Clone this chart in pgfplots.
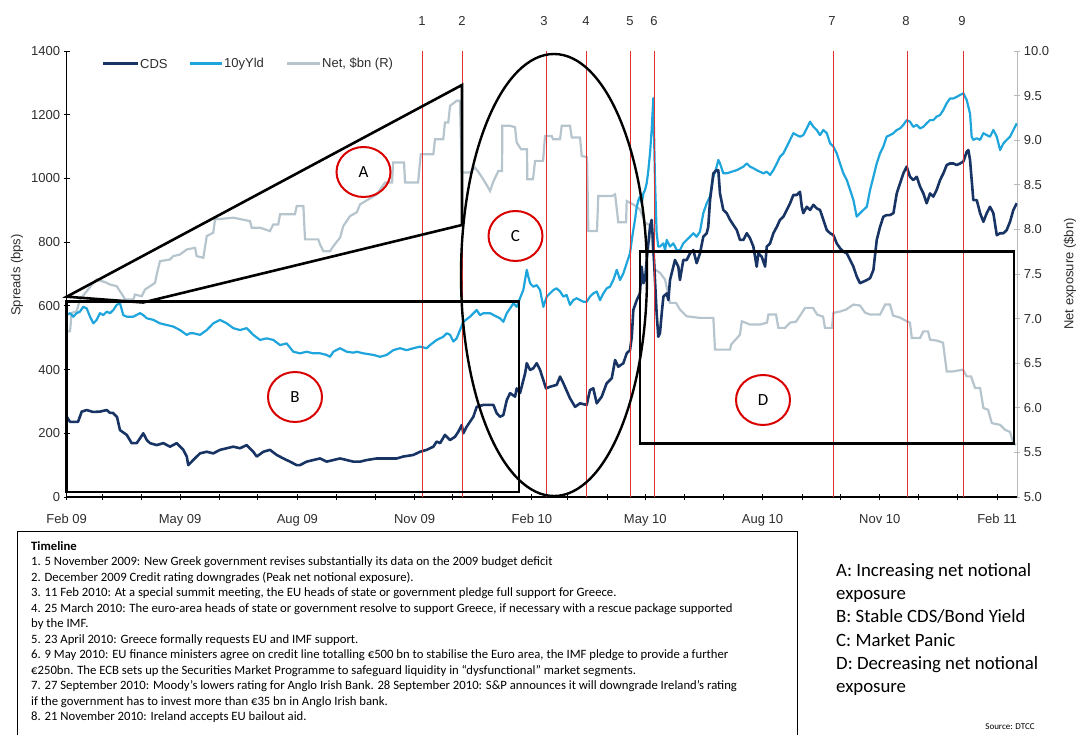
\documentclass[border=0pt]{standalone}
\usepackage{fontspec}
\setmainfont{Liberation Sans}
\newfontfamily\calibri{Carlito}
\usepackage{pgfplots}
\pgfplotsset{compat=1.18}
\definecolor{cdsc}{RGB}{24,52,100}
\definecolor{yldc}{RGB}{30,165,220}
\definecolor{netc}{RGB}{182,197,205}
\definecolor{evred}{RGB}{224,50,50}
\definecolor{ticktext}{RGB}{45,45,45}
\begin{document}
\begin{tikzpicture}[x=1pt,y=1pt]
\path[use as bounding box] (0,0) rectangle (1078,734);

% ---------- right axis: net exposure ----------
\begin{axis}[
  at={(66.7pt,237pt)}, anchor=south west, scale only axis,
  width=950.6pt, height=446pt,
  xmin=0, xmax=745.9, ymin=5, ymax=10,
  axis x line=none, axis y line*=right,
  ytick={5,5.5,6,6.5,7,7.5,8,8.5,9,9.5,10},
  yticklabel style={/pgf/number format/.cd, fixed, fixed zerofill, precision=1, assume math mode=true},
  tick label style={font=\fontsize{13}{13}\selectfont, text=ticktext},
  y axis line style={draw=gray!55, line width=0.8pt},
  tick align=center, major tick length=6pt,
  ytick style={draw=gray!55, line width=0.8pt},
]
\addplot[netc, line width=2.2pt] coordinates {
(0,6.857)(2.6,6.857)(3.9,7.064)(7.8,7.082)(10.4,7.213)(15.7,7.307)(20.9,7.401)(23.5,7.438)(30.8,7.405)(34,7.382)(39.2,7.363)(41.8,7.307)(44.4,7.251)(45.7,7.213)(52.3,7.213)(53.6,7.270)(58.9,7.251)(61.4,7.326)(65.4,7.363)(69.3,7.401)(70.6,7.494)(73.2,7.644)(81.1,7.663)(83.6,7.700)(88.9,7.719)(94.2,7.775)(100.7,7.794)(102,7.700)(107.2,7.682)(109.9,7.925)(115,7.963)(116.4,8.112)(130.7,8.131)(137.3,8.112)(143.8,8.093)(145.2,8.019)(151.7,8.019)(159.5,7.981)(162.1,8.056)(166,8.056)(167.4,8.169)(179.1,8.169)(180.5,8.262)(185.7,8.262)(187,7.888)(197.4,7.888)(198.8,7.831)(201.4,7.756)(206.6,7.756)(209.2,7.812)(214.5,7.907)(217,8.037)(222.3,8.149)(227.6,8.191)(230.2,8.281)(243.3,8.393)(249.8,8.525)(255.3,8.525)(256.1,8.749)(264.7,8.749)(265.5,8.525)(275.7,8.525)(277.8,8.843)(287.7,8.843)(289,9.011)(295.5,9.011)(296.8,9.199)(299.4,9.199)(300.8,9.385)(306,9.442)(308.6,9.442)(309.9,8.637)(316.5,8.637)(320.4,8.693)(324.3,8.618)(328.3,8.528)(332.2,8.430)(334.5,8.528)(338.7,8.655)(341.6,8.655)(341.8,9.161)(347.9,9.161)(351.8,9.146)(353.1,8.974)(356.5,8.899)(361.2,8.899)(361.4,8.562)(365.9,8.562)(367.5,8.768)(373.8,8.768)(375.3,9.048)(380.6,9.048)(381.6,9.011)(387.1,9.011)(388.4,9.161)(394.9,9.161)(396.3,9.030)(402.8,9.030)(404.1,8.824)(408.3,8.809)(409.3,7.981)(416.1,7.981)(417.1,8.374)(427.9,8.374)(430.3,8.393)(432.8,8.079)(438.9,8.079)(439.4,8.318)(444.4,8.281)(449.8,8.224)(453.8,8.075)(457.7,8.045)(461.6,7.551)(465.5,7.513)(469.5,7.438)(473.4,7.176)(478.1,7.176)(481.2,7.101)(486.5,7.026)(496.9,7.008)(507.4,7.008)(508.7,6.652)(520.5,6.652)(521.3,6.708)(528.3,6.820)(529.7,6.970)(536.2,6.933)(544,6.933)(549.5,6.955)(550.6,7.045)(556.6,7.045)(558.4,6.896)(563.7,6.896)(567.6,6.955)(572.3,6.966)(579.4,7.120)(585.6,7.120)(588.8,7.045)(593.5,7.022)(595,6.896)(600.5,6.896)(601.6,7.064)(606.8,7.079)(611.5,7.101)(617.3,7.157)(622.5,7.146)(626.4,7.067)(630.4,7.045)(638.2,7.045)(642.2,7.157)(646,7.157)(648.4,7.034)(653.9,7.011)(659.1,6.970)(661.7,6.955)(663.1,6.783)(669.6,6.783)(672.2,6.857)(675.9,6.857)(677.4,6.764)(682.9,6.753)(687.6,6.730)(690.5,6.408)(695.5,6.408)(703.3,6.427)(706.2,6.352)(709.6,6.352)(712.8,6.221)(716.7,6.221)(719.3,5.997)(723,5.978)(725.9,5.828)(732.4,5.809)(736.3,5.753)(740.2,5.730)(742.8,5.603)(744.9,5.584)
};
\end{axis}

% ---------- left axis: CDS and 10y yield ----------
\begin{axis}[
  at={(66.7pt,237pt)}, anchor=south west, scale only axis,
  width=950.6pt, height=446pt,
  xmin=0, xmax=745.9, ymin=0, ymax=1400,
  axis x line*=bottom, axis y line*=left,
  xtick={0,89,181,273,365,454,546,638,730},
  xticklabels={Feb 09,May 09,Aug 09,Nov 09,Feb 10,May 10,Aug 10,Nov 10,Feb 11},
  minor xtick={28,59,120,150,212,242,303,334,393,424,485,515,577,607,668,699},
  ytick={0,200,400,600,800,1000,1200,1400},
  yticklabel style={/pgf/number format/.cd, 1000 sep={}, assume math mode=true},
  tick label style={font=\fontsize{13}{13}\selectfont, text=ticktext},
  xticklabel style={yshift=-11pt},
  axis line style={black, line width=1.4pt},
  tick align=center, major tick length=6pt, minor tick length=5pt,
  tick style={black, line width=0.9pt},
]
\addplot[yldc, line width=2.2pt, line join=round] coordinates {
(0,571)(2.6,577)(5.2,566)(7.8,577)(10.4,582)(13,597)(15.7,592)(18.3,566)(20.9,545)(23.5,556)(26.1,577)(28.7,571)(31.4,582)(34,577)(36.6,587)(39.2,603)(41.8,608)(44.4,571)(47.1,566)(52.3,566)(57.5,577)(60.1,571)(62.8,561)(68,556)(73.2,545)(78.5,540)(83.6,535)(88.9,524)(94.2,509)(96.8,514)(99.3,514)(104.6,509)(109.9,524)(115,545)(120.3,556)(125.6,545)(130.7,530)(136,524)(141.2,530)(146.4,509)(151.7,493)(156.9,498)(162.1,493)(167.4,477)(172.6,482)(177.8,456)(183,451)(188.3,456)(193.5,451)(198.8,451)(204,446)(206.6,440)(209.2,456)(214.5,467)(219.7,456)(224.9,453)(227.6,456)(232.7,451)(240.6,446)(245.9,440)(251.1,446)(256.3,461)(261.5,467)(266.8,461)(272,467)(277.2,472)(282.5,467)(285.1,477)(290.3,493)(295.5,503)(298.2,514)(300.8,509)(303.4,488)(306,498)(308.6,524)(311.2,550)(316.5,566)(321.7,587)(324.3,571)(327,577)(332.2,577)(337.4,566)(340,561)(342.6,550)(345.3,577)(347.9,592)(350.5,608)(353.1,597)(355.7,624)(358.3,650)(361,713)(362.2,692)(363.6,671)(366.1,660)(368.8,665)(371.4,650)(374,597)(376.7,629)(379.2,639)(381.9,650)(384.5,655)(387.1,645)(389.7,629)(392.3,634)(394.9,603)(397.5,618)(400.2,624)(402.8,618)(405.4,613)(408,613)(410.6,629)(413.2,639)(415.9,645)(418.5,618)(421.1,639)(423.7,655)(426.3,660)(428.9,681)(431.6,713)(434.2,681)(436.8,702)(439.4,734)(442,765)(443.4,807)(444.6,838)(445.9,870)(447.3,911)(448.6,932)(449.8,943)(451.2,922)(452.5,953)(453.8,964)(455.1,985)(456.4,1026)(457.7,1079)(459,1152)(460.3,1252)(461.6,995)(462.9,828)(464.2,786)(465.5,786)(468.2,796)(469.5,775)(470.8,807)(473.4,786)(476,796)(478.7,775)(481.2,775)(483.8,796)(486.5,807)(489.1,817)(491.7,828)(494.3,817)(496.9,833)(499.5,891)(502.2,922)(504.8,943)(507.4,1005)(510,1037)(511.3,1058)(512.6,1047)(515.2,1016)(517.9,1016)(521.8,1021)(525.8,1026)(531,1037)(533.6,1047)(536.2,1037)(538.8,1032)(541.4,1026)(544,1021)(546.6,1016)(549.3,1021)(551.9,1011)(554.5,1026)(557.2,1047)(559.7,1068)(562.4,1079)(565,1100)(567.6,1121)(570.2,1142)(572.8,1136)(575.4,1131)(578,1136)(580.7,1157)(583.3,1178)(585.9,1162)(588.5,1152)(591.1,1136)(593.7,1152)(596.4,1142)(599,1110)(601.6,1100)(604.2,1079)(606.8,1047)(609.4,1016)(612.1,995)(614.7,964)(617.3,932)(619.9,880)(622.5,891)(625.1,901)(627.8,911)(630.4,964)(633,1005)(635.6,1047)(638.2,1079)(640.8,1100)(643.4,1131)(646,1136)(648.7,1142)(651.3,1152)(653.9,1157)(656.5,1168)(659.1,1183)(661.7,1178)(664.3,1162)(667,1168)(669.6,1157)(672.2,1162)(674.8,1173)(677.4,1183)(680,1183)(682.6,1194)(685.3,1199)(687.9,1215)(690.5,1236)(693.1,1251)(695.7,1251)(698.3,1256)(701,1262)(703.6,1267)(706.2,1246)(708.8,1204)(710.1,1131)(711.4,1121)(714.1,1126)(716.7,1121)(719.3,1142)(721.9,1136)(724.5,1131)(727.1,1152)(729.8,1131)(732.4,1089)(735,1110)(737.6,1121)(740.2,1131)(742.8,1152)(745.5,1173)
};
\addplot[cdsc, line width=2.6pt, line join=round] coordinates {
(0,252)(2.6,236)(8.9,236)(11.8,268)(15.7,273)(20.6,267)(26.1,268)(31.4,273)(34,264)(36.3,264)(39.5,251)(41.8,210)(47.1,195)(51,169)(54.9,169)(57.5,184)(60.1,200)(62.8,179)(65.4,169)(70.6,163)(75.8,169)(81.1,158)(86.3,169)(91.5,148)(94.2,127)(95.4,100)(99.3,116)(104.6,137)(109.9,142)(115,137)(120.3,148)(125.6,153)(130.7,158)(136,153)(141.2,163)(146.4,142)(149.1,127)(154.3,142)(159.5,148)(164.8,132)(170,121)(175.2,111)(180.5,100)(183,100)(188.3,111)(193.5,116)(198.8,121)(204,111)(209.2,116)(214.5,121)(219.7,116)(224.9,111)(230.2,111)(235.4,116)(243.3,121)(251.1,121)(259,121)(264.1,127)(272,132)(277.2,142)(282.5,148)(287.7,158)(290.3,174)(293,169)(296.8,195)(300.8,179)(304.7,189)(307.3,205)(310,226)(311.2,200)(313.9,221)(319.1,252)(321.7,283)(326.9,289)(334.8,289)(337.4,263)(340,252)(342.6,257)(345.3,304)(347.9,326)(351.8,315)(353.1,341)(355.7,326)(359.7,388)(361,420)(363.6,399)(366.1,404)(368.8,420)(371.4,399)(374,367)(376.1,341)(379.2,346)(384.5,352)(387.1,378)(389.7,357)(394.9,310)(398.9,283)(402.8,294)(408,289)(410.6,336)(413.2,341)(415.9,294)(419.8,315)(423.7,357)(427.7,373)(430.3,430)(432.8,409)(436.8,420)(439.4,451)(442,461)(443.4,503)(444.6,587)(447.3,618)(449.8,639)(451.2,723)(452.5,671)(453.8,681)(455.1,744)(456.4,796)(457.7,848)(459,870)(460.3,786)(461.6,681)(462.9,577)(464.2,503)(465.5,514)(466.9,577)(468.2,629)(470.8,639)(472.1,618)(473.4,681)(476,723)(477.3,744)(479.9,723)(481.2,681)(483.8,744)(486.5,744)(489.1,765)(491.7,775)(494.3,734)(496.9,765)(499.5,817)(502.2,828)(503.4,848)(504.8,932)(507.4,1016)(510,1026)(511.3,1026)(512.6,953)(515.2,901)(517.9,891)(520.5,870)(523.1,854)(525.8,838)(528.3,807)(531,807)(533.6,828)(536.2,812)(538.8,786)(541.4,723)(542.7,765)(545.4,754)(548,723)(549.3,786)(551.9,796)(554.5,828)(557.2,848)(559.7,870)(562.4,880)(565,901)(567.6,922)(570.2,948)(572.8,948)(575.4,958)(576.8,911)(578,891)(580.7,911)(583.3,901)(585.9,917)(588.5,906)(591.1,901)(593.7,870)(596.4,838)(599,828)(601.6,822)(604.2,796)(606.8,781)(609.4,770)(612.1,765)(614.7,744)(617.3,723)(619.9,692)(622.5,671)(625.1,676)(627.8,681)(630.4,687)(633,713)(635.6,807)(638.2,848)(640.8,880)(643.4,885)(646,885)(648.7,891)(651.3,953)(653.9,985)(656.5,1016)(659.1,1037)(661.7,1005)(664.3,995)(667,1005)(669.6,974)(672.2,953)(674.8,922)(677.4,953)(680,943)(682.6,964)(685.3,995)(687.9,1016)(690.5,1042)(693.1,1047)(695.7,1047)(698.3,1042)(701,1047)(703.6,1053)(706.2,1084)(707.5,1089)(708.8,1058)(711.4,932)(714.1,932)(716.7,891)(719.3,864)(721.9,891)(724.5,911)(727.1,891)(729.8,822)(732.4,828)(735,828)(737.6,838)(740.2,864)(742.8,901)(745.5,922)
};
% event lines
\foreach \d in {278.8,310.4,376.1,408,442.2,460.8,601.5,659.4,703.9}{
  \edef\tmp{\noexpand\draw[evred, line width=0.9pt] (axis cs:\d,0) -- (axis cs:\d,1400);}\tmp
}
\end{axis}

% event numbers
\foreach \xx/\t in {422/1,462/2,544/3,586/4,630/5,654/6,832/7,906/8,962/9}{
  \node[font=\fontsize{13}{13}\selectfont, text=ticktext] at (\xx,713) {\t};
}

% axis titles
\node[rotate=90, font=\fontsize{13}{13}\selectfont, text=ticktext] at (17,459) {Spreads (bps)};
\node[rotate=90, font=\fontsize{13}{13}\selectfont, text=ticktext] at (1070,460) {Net exposure (\$bn)};

% legend
\draw[cdsc, line width=3pt] (103,670) -- (138,670);
\node[anchor=west, inner sep=0pt, font=\fontsize{13}{13}\selectfont, text=ticktext] at (140,670) {CDS};
\draw[yldc, line width=3pt] (190,670) -- (222,670);
\node[anchor=west, inner sep=0pt, font=\fontsize{13}{13}\selectfont, text=ticktext] at (224,670) {10yYld};
\draw[netc, line width=3pt] (287,670) -- (320,670);
\node[anchor=west, inner sep=0pt, font=\fontsize{13}{13}\selectfont, text=ticktext] at (322,670) {Net, \$bn (R)};

% annotation shapes
\draw[black, line width=2.6pt, line join=miter] (66.7,437.3) -- (462,649) -- (462,509) -- (143,431.5) -- cycle;
\draw[black, line width=2.6pt] (66.7,432.3) rectangle (519,242);
\draw[black, line width=2.6pt] (640,482.3) rectangle (1014,290.7);
\draw[black, line width=2.4pt] (554,459) ellipse [x radius=93, y radius=221];
% red circles
\foreach \cx/\cy/\lab in {363.5/562/A,295/337/B,515.5/498/C,763/334/D}{
  \draw[red!85!black, line width=2pt] (\cx,\cy) ellipse [x radius=27, y radius=25];
  \node[font=\calibri\fontsize{17}{17}\selectfont] at (\cx,\cy) {\lab};
}

% timeline box
\draw[black, line width=1pt] (17,203) -- (797,203) -- (797,-5);
\draw[black, line width=1pt] (17,203) -- (17,-5);
\node[anchor=north west, inner sep=0pt, align=left, font=\calibri\fontsize{12.7}{15.5}\selectfont] at (31,193) {%
\textbf{Timeline}\\
1. 5 November 2009: New Greek government revises substantially its data on the 2009 budget deficit\\
2. December 2009 Credit rating downgrades (Peak net notional exposure).\\
3. 11 Feb 2010: At a special summit meeting, the EU heads of state or government pledge full support for Greece.\\
4. 25 March 2010: The euro-area heads of state or government resolve to support Greece, if necessary with a rescue package supported\\
by the IMF.\\
5. 23 April 2010: Greece formally requests EU and IMF support.\\
6. 9 May 2010: EU finance ministers agree on credit line totalling €500 bn to stabilise the Euro area, the IMF pledge to provide a further\\
€250bn. The ECB sets up the Securities Market Programme to safeguard liquidity in “dysfunctional” market segments.\\
7. 27 September 2010: Moody’s lowers rating for Anglo Irish Bank. 28 September 2010: S\&P announces it will downgrade Ireland’s rating\\
if the government has to invest more than €35 bn in Anglo Irish bank.\\
8. 21 November 2010: Ireland accepts EU bailout aid.};

% key
\node[anchor=north west, inner sep=0pt, align=left, font=\calibri\fontsize{18.8}{23.3}\selectfont] at (836,171) {%
A: Increasing net notional\\
exposure\\
B: Stable CDS/Bond Yield\\
C: Market Panic\\
D: Decreasing net notional\\
exposure};
\node[font=\calibri\fontsize{9}{9}\selectfont] at (1010,7) {Source: DTCC};
\end{tikzpicture}
\end{document}
